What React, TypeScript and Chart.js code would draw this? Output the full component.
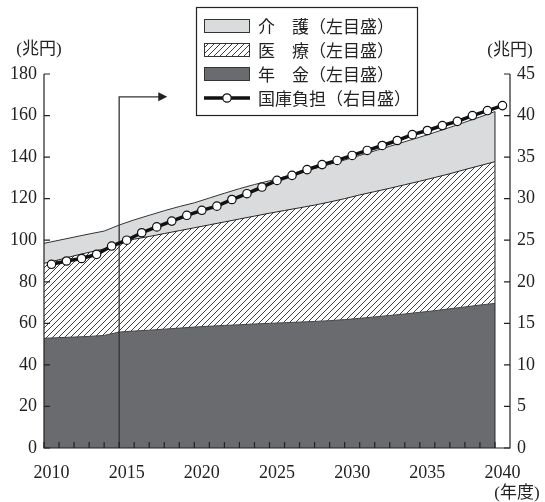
import React, { useEffect, useRef } from "react";
import { Chart, registerables } from "chart.js";

Chart.register(...registerables);

// Fiscal years on the horizontal axis
const years = [
  2010, 2011, 2012, 2013, 2014, 2015, 2016, 2017, 2018, 2019, 2020,
  2021, 2022, 2023, 2024, 2025, 2026, 2027, 2028, 2029, 2030,
  2031, 2032, 2033, 2034, 2035, 2036, 2037, 2038, 2039, 2040,
];
const labelYears = [2010, 2015, 2020, 2025, 2030, 2035, 2040];

// Benefit expenditure, trillion yen (left axis, stacked)
const pension = [
  52.8, 53.1, 53.4, 53.7, 54.2, 55.8, 56.3, 56.7, 57.2, 57.7, 58.2,
  58.6, 59.0, 59.3, 59.7, 60.0, 60.3, 60.6, 60.9, 61.3, 61.8,
  62.4, 63.1, 63.8, 64.5, 65.3, 66.1, 67.0, 67.9, 68.8, 69.6,
];
const medical = [
  36.1, 37.5, 39.1, 40.5, 41.6, 42.7, 44.2, 45.1, 46.0, 46.9, 47.8,
  48.8, 49.8, 50.9, 51.9, 53.0, 54.0, 55.0, 56.0, 57.1, 58.2,
  59.4, 60.3, 61.2, 62.2, 63.1, 64.1, 65.0, 66.1, 67.1, 68.2,
];
const nursing = [
  9.6, 9.4, 9.0, 8.8, 8.6, 8.8, 9.3, 10.2, 11.0, 11.6, 12.0,
  12.9, 13.8, 14.6, 15.2, 15.6, 16.2, 16.9, 17.6, 18.1, 18.6,
  19.0, 19.6, 20.2, 20.7, 21.2, 21.7, 22.3, 22.8, 23.4, 24.1,
];
// National treasury burden, trillion yen (right axis)
const burden = [
  22.1, 22.5, 22.8, 23.3, 24.3, 25.0, 25.9, 26.6, 27.3, 28.0, 28.6,
  29.1, 29.9, 30.6, 31.4, 32.2, 32.8, 33.5, 34.1, 34.6, 35.2,
  35.8, 36.4, 37.0, 37.7, 38.2, 38.8, 39.3, 40.0, 40.6, 41.2,
];

const leftTicks = [0, 20, 40, 60, 80, 100, 120, 140, 160, 180];
const rightTicks = [0, 5, 10, 15, 20, 25, 30, 35, 40, 45];

const legendLabels = [
  "介\u3000護（左目盛）",
  "医\u3000療（左目盛）",
  "年\u3000金（左目盛）",
  "国庫負担（右目盛）",
];

// Pointer from FY2015 up and to the right
const arrowYear = 2015;
const arrowLevel = 169;
const arrowEndYear = 2018.2;

const DARK = "#6a6b6f";
const LIGHT = "#dadbdc";
const INK = "#222222";
const SERIF = '"Liberation Serif", "Noto Sans CJK JP", serif';
const CJK = '"Noto Sans CJK JP", "Liberation Serif", sans-serif';

function makeHatch(): CanvasPattern | string {
  const s = 6;
  const c = document.createElement("canvas");
  c.width = s;
  c.height = s;
  const g = c.getContext("2d");
  if (!g) return "#ffffff";
  g.fillStyle = "#ffffff";
  g.fillRect(0, 0, s, s);
  g.strokeStyle = "#2a2a2a";
  g.lineWidth = 0.9;
  g.beginPath();
  g.moveTo(-1, s + 1);
  g.lineTo(s + 1, -1);
  g.moveTo(-1, 1);
  g.lineTo(1, -1);
  g.moveTo(s - 1, s + 1);
  g.lineTo(s + 1, s - 1);
  g.stroke();
  return g.createPattern(c, "repeat") || "#ffffff";
}

export default function App() {
  const ref = useRef<HTMLCanvasElement | null>(null);

  useEffect(() => {
    document.body.style.margin = "0";
    const canvas = ref.current;
    if (!canvas) return;
    const hatch = makeHatch();

    const decor = {
      id: "decor",
      beforeDatasetDraw(chart: any, args: any) {
        if (args.index !== 3) return;
        const { ctx } = chart;
        const xs = chart.scales.x;
        const ys = chart.scales.y;
        ctx.save();
        ctx.strokeStyle = "#333";
        ctx.lineWidth = 1.1;
        // right edge of the stacked areas
        const last = years.length - 1;
        const ex = xs.getPixelForValue(years[last]);
        ctx.beginPath();
        ctx.moveTo(ex, ys.getPixelForValue(0));
        ctx.lineTo(ex, ys.getPixelForValue(pension[last] + medical[last] + nursing[last]));
        ctx.stroke();
        // arrow
        const ax = xs.getPixelForValue(arrowYear);
        const ay = ys.getPixelForValue(arrowLevel);
        const tip = xs.getPixelForValue(arrowEndYear);
        ctx.lineWidth = 1.3;
        ctx.strokeStyle = "#333";
        ctx.beginPath();
        ctx.moveTo(ax, ys.getPixelForValue(0));
        ctx.lineTo(ax, ay);
        ctx.lineTo(tip - 8, ay);
        ctx.stroke();
        ctx.fillStyle = "#222";
        ctx.beginPath();
        ctx.moveTo(tip, ay);
        ctx.lineTo(tip - 9, ay - 4.5);
        ctx.lineTo(tip - 9, ay + 4.5);
        ctx.closePath();
        ctx.fill();
        ctx.restore();
      },
      afterDraw(chart: any) {
        const { ctx, chartArea } = chart;
        const { left, right, top, bottom } = chartArea;
        const xs = chart.scales.x;
        const ys = chart.scales.y;
        const y1 = chart.scales.y1;
        ctx.save();
        ctx.strokeStyle = INK;
        ctx.lineWidth = 1.2;
        // axis lines
        ctx.beginPath();
        ctx.moveTo(left, top);
        ctx.lineTo(left, bottom);
        ctx.lineTo(right, bottom);
        ctx.lineTo(right, top);
        ctx.stroke();
        // inward tick marks
        ctx.beginPath();
        years.forEach((yr) => {
          const px = xs.getPixelForValue(yr);
          ctx.moveTo(px, bottom);
          ctx.lineTo(px, bottom - 6);
        });
        leftTicks.forEach((v) => {
          const py = ys.getPixelForValue(v);
          ctx.moveTo(left, py);
          ctx.lineTo(left + 6, py);
        });
        rightTicks.forEach((v) => {
          const py = y1.getPixelForValue(v);
          ctx.moveTo(right, py);
          ctx.lineTo(right - 6, py);
        });
        ctx.stroke();

        // unit captions
        ctx.fillStyle = INK;
        ctx.font = `17px ${SERIF}`;
        ctx.textAlign = "center";
        ctx.textBaseline = "middle";
        ctx.fillText("(兆円)", 39, 50);
        ctx.fillText("(兆円)", 510, 51);
        ctx.fillText("(年度)", 517, 494);

        // legend
        const bx = 196.5, by = 7.5, bw = 221, bh = 108;
        ctx.fillStyle = "#ffffff";
        ctx.fillRect(bx, by, bw, bh);
        ctx.lineWidth = 1.2;
        ctx.strokeStyle = INK;
        ctx.strokeRect(bx, by, bw, bh);
        const rows = [26, 50, 74, 98];
        const sx = 204, sw = 46, sh = 14;
        const fills: any[] = [LIGHT, hatch, DARK];
        fills.forEach((f, i) => {
          ctx.fillStyle = f;
          ctx.fillRect(sx, rows[i] - sh / 2, sw, sh);
          ctx.lineWidth = 1;
          ctx.strokeStyle = "#333";
          ctx.strokeRect(sx + 0.5, rows[i] - sh / 2 + 0.5, sw - 1, sh - 1);
        });
        ctx.strokeStyle = "#111";
        ctx.lineWidth = 3.5;
        ctx.beginPath();
        ctx.moveTo(sx, rows[3]);
        ctx.lineTo(sx + sw, rows[3]);
        ctx.stroke();
        ctx.fillStyle = "#ffffff";
        ctx.lineWidth = 1.2;
        ctx.beginPath();
        ctx.arc(sx + sw / 2, rows[3], 4.2, 0, Math.PI * 2);
        ctx.fill();
        ctx.stroke();
        ctx.fillStyle = INK;
        ctx.font = `17px ${CJK}`;
        ctx.textAlign = "left";
        ctx.textBaseline = "middle";
        legendLabels.forEach((t, i) => ctx.fillText(t, 258, rows[i] + 1));
        ctx.restore();
      },
    };

    const chart = new Chart(canvas, {
      type: "line",
      data: {
        datasets: [
          {
            label: "年金",
            data: years.map((yr, i) => ({ x: yr, y: pension[i] })),
            yAxisID: "y",
            stack: "benefit",
            fill: "origin",
            backgroundColor: DARK,
            borderColor: "#444",
            borderWidth: 1,
            pointRadius: 0,
            tension: 0,
          },
          {
            label: "医療",
            data: years.map((yr, i) => ({ x: yr, y: medical[i] })),
            yAxisID: "y",
            stack: "benefit",
            fill: "-1",
            backgroundColor: hatch as any,
            borderColor: "#222",
            borderWidth: 1,
            pointRadius: 0,
            tension: 0,
          },
          {
            label: "介護",
            data: years.map((yr, i) => ({ x: yr, y: nursing[i] })),
            yAxisID: "y",
            stack: "benefit",
            fill: "-1",
            backgroundColor: LIGHT,
            borderColor: "#333",
            borderWidth: 1,
            pointRadius: 0,
            tension: 0,
          },
          {
            label: "国庫負担",
            data: years.map((yr, i) => ({ x: yr + 0.5, y: burden[i] })),
            yAxisID: "y1",
            stack: "treasury",
            fill: false,
            borderColor: "#111",
            borderWidth: 3.5,
            pointRadius: 4.2,
            pointBorderWidth: 1.2,
            pointBackgroundColor: "#ffffff",
            pointBorderColor: "#111",
            tension: 0,
            order: -1,
          },
        ],
      },
      options: {
        responsive: false,
        animation: false,
        devicePixelRatio: 1,
        layout: { padding: { top: 74, left: 0, right: 0, bottom: 0 } },
        plugins: {
          legend: { display: false },
          tooltip: { enabled: false },
        },
        scales: {
          x: {
            type: "linear",
            min: 2010,
            max: 2041,
            grid: { display: false, drawTicks: false },
            border: { display: false },
            afterBuildTicks: (scale: any) => {
              scale.ticks = labelYears.map((v) => ({ value: v + 0.5 }));
            },
            afterFit: (scale: any) => {
              scale.height = 54;
            },
            ticks: {
              autoSkip: false,
              maxRotation: 0,
              padding: 14,
              color: INK,
              font: { family: SERIF, size: 18 },
              callback: (v: any) => String(Math.floor(Number(v))),
            },
          },
          y: {
            position: "left",
            stacked: true,
            min: 0,
            max: 180,
            grid: { display: false, drawTicks: false },
            border: { display: false },
            afterFit: (scale: any) => {
              scale.width = 44;
            },
            ticks: {
              stepSize: 20,
              padding: 7,
              color: INK,
              font: { family: SERIF, size: 18 },
            },
          },
          y1: {
            position: "right",
            min: 0,
            max: 45,
            grid: { display: false, drawTicks: false },
            border: { display: false },
            afterFit: (scale: any) => {
              scale.width = 35;
            },
            ticks: {
              stepSize: 5,
              padding: 7,
              color: INK,
              font: { family: SERIF, size: 18 },
            },
          },
        },
      },
      plugins: [decor],
    });

    return () => chart.destroy();
  }, []);

  return (
    <canvas
      ref={ref}
      width={545}
      height={502}
      style={{ display: "block", width: 545, height: 502 }}
    />
  );
}
